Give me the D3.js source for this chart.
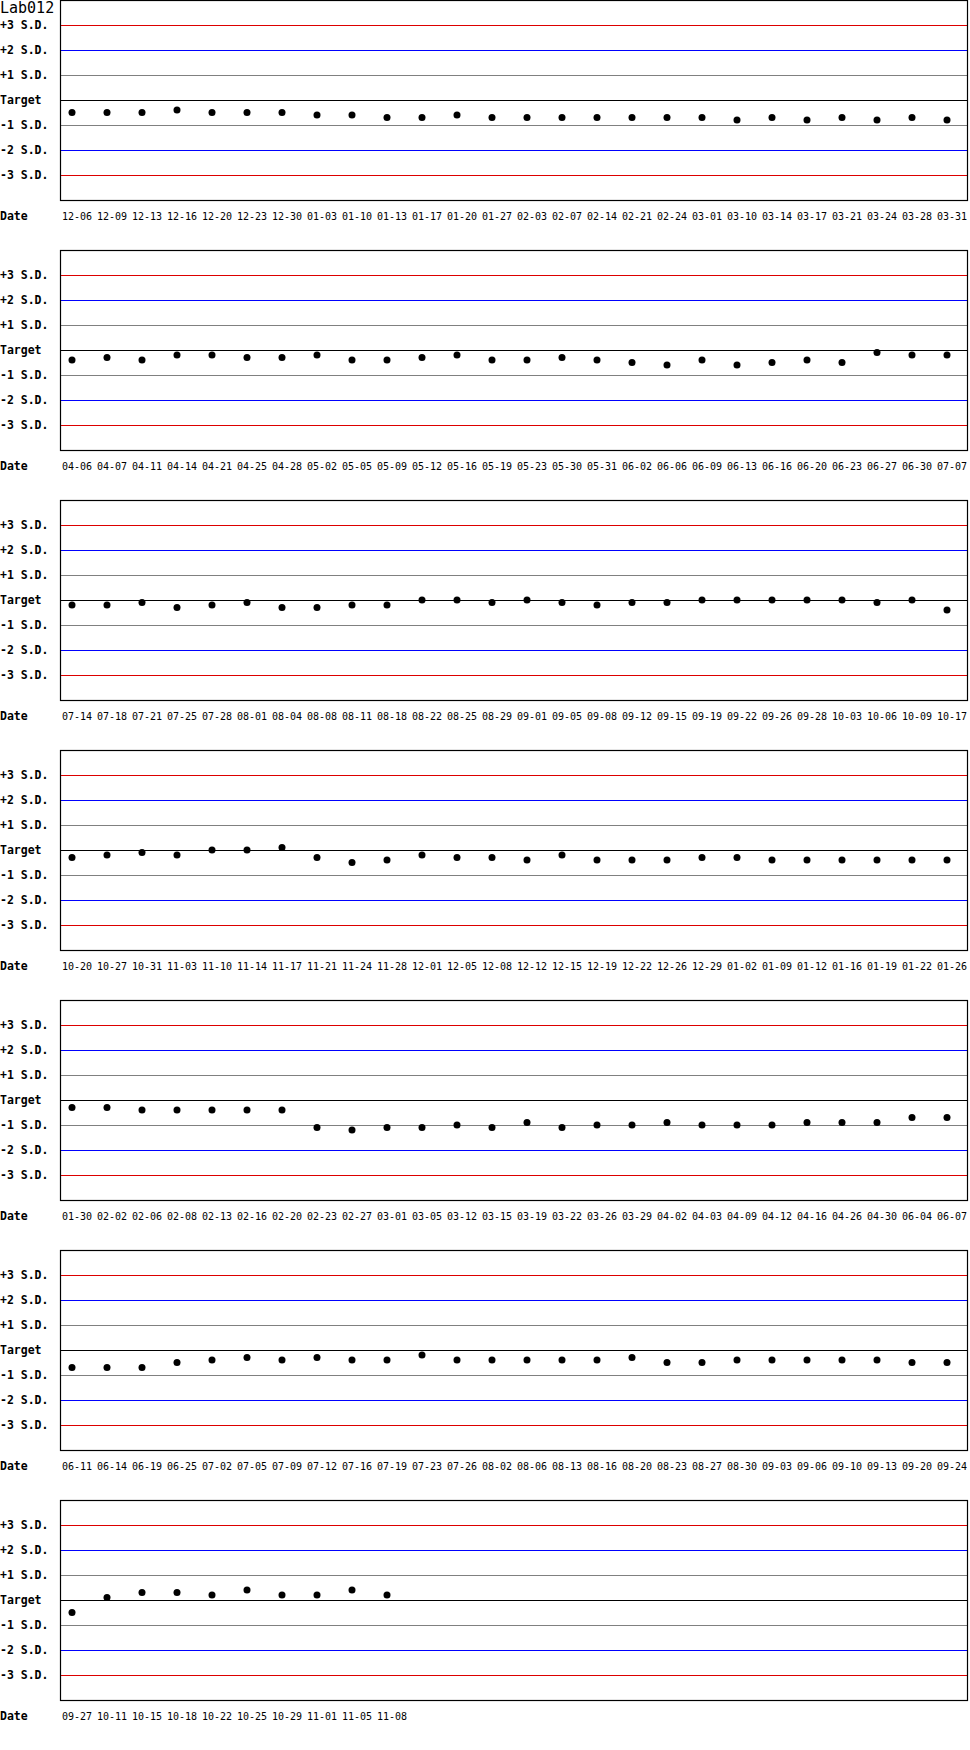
<!DOCTYPE html>
<html>
<head>
<meta charset="utf-8">
<script src="https://d3js.org/d3.v7.min.js"></script>
<style>
  body { margin: 0; background: #fff; }
  svg text { font-family: "DejaVu Sans Mono", "Liberation Mono", monospace; }
</style>
</head>
<body>
<div id="qc"><svg width="970" height="1750"></svg></div>
<script>
// control chart data, one value per run date (in S.D. from target)
var labName = "Lab012"

var dates = [
	"12-06","12-09","12-13","12-16","12-20","12-23","12-30","01-03","01-10","01-13","01-17","01-20","01-27","02-03","02-07","02-14","02-21","02-24","03-01","03-10","03-14","03-17","03-21","03-24","03-28","03-31",
	"04-06","04-07","04-11","04-14","04-21","04-25","04-28","05-02","05-05","05-09","05-12","05-16","05-19","05-23","05-30","05-31","06-02","06-06","06-09","06-13","06-16","06-20","06-23","06-27","06-30","07-07",
	"07-14","07-18","07-21","07-25","07-28","08-01","08-04","08-08","08-11","08-18","08-22","08-25","08-29","09-01","09-05","09-08","09-12","09-15","09-19","09-22","09-26","09-28","10-03","10-06","10-09","10-17",
	"10-20","10-27","10-31","11-03","11-10","11-14","11-17","11-21","11-24","11-28","12-01","12-05","12-08","12-12","12-15","12-19","12-22","12-26","12-29","01-02","01-09","01-12","01-16","01-19","01-22","01-26",
	"01-30","02-02","02-06","02-08","02-13","02-16","02-20","02-23","02-27","03-01","03-05","03-12","03-15","03-19","03-22","03-26","03-29","04-02","04-03","04-09","04-12","04-16","04-26","04-30","06-04","06-07",
	"06-11","06-14","06-19","06-25","07-02","07-05","07-09","07-12","07-16","07-19","07-23","07-26","08-02","08-06","08-13","08-16","08-20","08-23","08-27","08-30","09-03","09-06","09-10","09-13","09-20","09-24",
	"09-27","10-11","10-15","10-18","10-22","10-25","10-29","11-01","11-05","11-08"
]

var sdValues = [
	-0.5,-0.5,-0.5,-0.4,-0.5,-0.5,-0.5,-0.6,-0.6,-0.7,-0.7,-0.6,-0.7,-0.7,-0.7,-0.7,-0.7,-0.7,-0.7,-0.8,-0.7,-0.8,-0.7,-0.8,-0.7,-0.8,
	-0.4,-0.3,-0.4,-0.2,-0.2,-0.3,-0.3,-0.2,-0.4,-0.4,-0.3,-0.2,-0.4,-0.4,-0.3,-0.4,-0.5,-0.6,-0.4,-0.6,-0.5,-0.4,-0.5,-0.1,-0.2,-0.2,
	-0.2,-0.2,-0.1,-0.3,-0.2,-0.1,-0.3,-0.3,-0.2,-0.2,0,0,-0.1,0,-0.1,-0.2,-0.1,-0.1,0,0,0,0,0,-0.1,0,-0.4,
	-0.3,-0.2,-0.1,-0.2,0,0,0.1,-0.3,-0.5,-0.4,-0.2,-0.3,-0.3,-0.4,-0.2,-0.4,-0.4,-0.4,-0.3,-0.3,-0.4,-0.4,-0.4,-0.4,-0.4,-0.4,
	-0.3,-0.3,-0.4,-0.4,-0.4,-0.4,-0.4,-1.1,-1.2,-1.1,-1.1,-1.0,-1.1,-0.9,-1.1,-1.0,-1.0,-0.9,-1.0,-1.0,-1.0,-0.9,-0.9,-0.9,-0.7,-0.7,
	-0.7,-0.7,-0.7,-0.5,-0.4,-0.3,-0.4,-0.3,-0.4,-0.4,-0.2,-0.4,-0.4,-0.4,-0.4,-0.4,-0.3,-0.5,-0.5,-0.4,-0.4,-0.4,-0.4,-0.4,-0.5,-0.5,
	-0.5,0.1,0.3,0.3,0.2,0.4,0.2,0.2,0.4,0.2
]

// limit lines
var levels = [3, 2, 1, 0, -1, -2, -3]
var levelLabels = ["+3 S.D.", "+2 S.D.", "+1 S.D.", "Target", "-1 S.D.", "-2 S.D.", "-3 S.D."]
var levelColors = ["#dd0000", "#0000ff", "#808080", "#000000", "#808080", "#0000ff", "#dd0000"]

var perRow = 26

let svg = d3.select("#qc").select("svg");

let padding = {l: 60, r: 2, rowH: 250, plotH: 200};

var x = d3.scalePoint()
	.domain(d3.range(perRow))
	.range([72, 947]);

var y = d3.scaleLinear()
	.domain([4, -4])
	.range([0, padding.plotH]);

var rows = []
for (var i = 0; i < dates.length; i += perRow) {
	rows.push(dates.slice(i, i + perRow).map(function(d, j) {
		return {date: d, sd: sdValues[i + j], idx: j}
	}))
}

rows.forEach(function(row, r) {
	var rowG = svg.append("g")
		.attr("transform", "translate(0," + (r * padding.rowH) + ")");

	// level lines
	rowG.selectAll(".level")
		.data(levels)
		.enter()
		.append("line")
		.attr("x1", padding.l)
		.attr("x2", 968)
		.attr("y1", function(d) { return Math.round(y(d)) + 0.5; })
		.attr("y2", function(d) { return Math.round(y(d)) + 0.5; })
		.attr("stroke", function(d, i) { return levelColors[i]; })
		.attr("stroke-width", 1.2)

	rowG.append("rect")
		.attr("x", padding.l + 0.5)
		.attr("y", 0.5)
		.attr("width", 967 - padding.l)
		.attr("height", padding.plotH)
		.attr("fill", "none")
		.attr("stroke", "black")
		.attr("stroke-width", 1.2)

	rowG.selectAll(".levelLabel")
		.data(levelLabels)
		.enter()
		.append("text")
		.attr("x", 0)
		.attr("y", function(d, i) { return y(levels[i]) + 4; })
		.style("font-size", "11.5px")
		.style("font-weight", "bold")
		.text(function(d) { return d; })

	rowG.append("text")
		.attr("x", 0)
		.attr("y", padding.plotH + 20)
		.style("font-size", "11.5px")
		.style("font-weight", "bold")
		.text("Date")

	// dates under each point
	rowG.selectAll(".dateLabel")
		.data(row)
		.enter()
		.append("text")
		.attr("x", function(d) { return x(d.idx) - 10; })
		.attr("y", padding.plotH + 20)
		.style("font-size", "10px")
		.text(function(d) { return d.date; })

	rowG.selectAll(".pt")
		.data(row)
		.enter()
		.append("circle")
		.attr("cx", function(d) { return x(d.idx); })
		.attr("cy", function(d) { return y(d.sd); })
		.attr("r", 3.5)
		.style("fill", "black")
})

svg.append("text")
	.attr("x", 0)
	.attr("y", 13)
	.style("font-size", "15px")
	.text(labName)
</script>
</body>
</html>
